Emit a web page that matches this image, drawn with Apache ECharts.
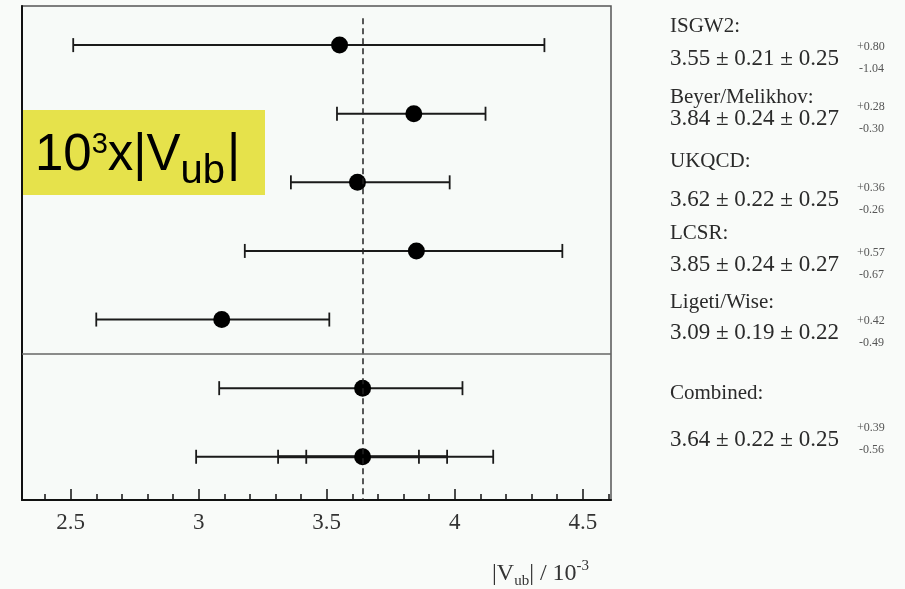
<!DOCTYPE html>
<html>
<head>
<meta charset="utf-8">
<script src="https://cdn.jsdelivr.net/npm/echarts@6/dist/echarts.min.js"></script>
<style>
  html, body { margin: 0; padding: 0; background: #f9fbf9; }
  #main { width: 905px; height: 589px; }
</style>
</head>
<body>
<div id="main"></div>
<script>
// |Vub| results (x 10^-3), theory errors asymmetric
const methods = ['ISGW2', 'Beyer/Melikhov', 'UKQCD', 'LCSR', 'Ligeti/Wise', 'Combined'];
const central = [3.55, 3.84, 3.62, 3.85, 3.09, 3.64];
const statErr = [0.21, 0.24, 0.22, 0.24, 0.19, 0.22];
const sysErr = [0.25, 0.27, 0.25, 0.27, 0.22, 0.25];
const theoPlus = [0.80, 0.28, 0.36, 0.57, 0.42, 0.39];
const theoMinus = [1.04, 0.30, 0.26, 0.67, 0.49, 0.56];
// caps of the bottom (total) combined bar
const combinedCaps = [2.99, 3.31, 3.42, 3.86, 3.97, 4.15];
const rowPos = [7, 6, 5, 4, 3, 2];
const combinedRow = 1;
const xTickLabels = [2.5, 3, 3.5, 4, 4.5];

const minorTicks = [];
for (let v = 24; v <= 46; v++) if (v % 5) minorTicks.push(v / 10);

const X_MIN = 2.31, X_MAX = 4.61;
const serif = '"Liberation Serif", "DejaVu Serif", serif';
const sans = '"Liberation Sans", Arial, sans-serif';

let chart = echarts.init(document.getElementById('main'));

const barData = methods.map((m, i) => [central[i] - theoMinus[i], central[i] + theoPlus[i], rowPos[i]]);
const pointData = central.map((c, i) => [c, rowPos[i]]);
pointData.push([central[5], combinedRow]);

function seg(x1, y1, x2, y2, w) {
  return { type: 'line', shape: { x1, y1, x2, y2 }, style: { stroke: '#1a1a1a', lineWidth: w } };
}

function renderBar(params, api) {
  const y = api.value(2);
  const a = api.coord([api.value(0), y]);
  const b = api.coord([api.value(1), y]);
  const h = 7;
  return {
    type: 'group',
    children: [
      seg(a[0], a[1], b[0], b[1], 2),
      seg(a[0], a[1] - h, a[0], a[1] + h, 1.8),
      seg(b[0], b[1] - h, b[0], b[1] + h, 1.8)
    ]
  };
}

function renderNested(params, api) {
  const y = api.value(6);
  const pts = [0, 1, 2, 3, 4, 5].map(k => api.coord([api.value(k), y]));
  const h = 7;
  const kids = [
    seg(pts[0][0], pts[0][1], pts[5][0], pts[5][1], 2),
    seg(pts[1][0], pts[1][1], pts[4][0], pts[4][1], 3)
  ];
  pts.forEach(p => kids.push(seg(p[0], p[1] - h, p[0], p[1] + h, 1.8)));
  return { type: 'group', children: kids };
}

// right-hand legend text
const nameY = [16, 87, 151, 223, 292, 383];
const valueY = [47, 107, 188, 253, 321, 428];
const legendTexts = [];
methods.forEach((m, i) => {
  legendTexts.push({
    type: 'text', left: 670, top: nameY[i],
    style: { text: m + ':', font: '21px ' + serif, fill: '#2a2a2a' }
  });
  legendTexts.push({
    type: 'text', left: 670, top: valueY[i],
    style: {
      text: central[i].toFixed(2) + ' \u00b1 ' + statErr[i].toFixed(2) + ' \u00b1 ' + sysErr[i].toFixed(2),
      font: '23px ' + serif, fill: '#2a2a2a'
    }
  });
  legendTexts.push({
    type: 'text', left: 857, top: valueY[i] - 6,
    style: { text: '+' + theoPlus[i].toFixed(2), font: '12px ' + serif, fill: '#555' }
  });
  legendTexts.push({
    type: 'text', left: 859, top: valueY[i] + 16,
    style: { text: '-' + theoMinus[i].toFixed(2), font: '12px ' + serif, fill: '#555' }
  });
});

let option = {
  backgroundColor: '#f9fbf9',
  animation: false,
  grid: {
    left: 22, right: 294, top: 6, bottom: 89,
    show: true, borderColor: '#555', borderWidth: 1.5, backgroundColor: '#f7faf8'
  },
  xAxis: [
    {
      type: 'value', min: X_MIN, max: X_MAX, position: 'bottom',
      axisLine: { lineStyle: { color: '#111', width: 2 } },
      axisTick: { inside: true, length: 11, customValues: xTickLabels, lineStyle: { color: '#111', width: 1.5 } },
      axisLabel: {
        customValues: xTickLabels, margin: 11,
        fontFamily: serif, fontSize: 23, color: '#333'
      },
      splitLine: { show: false }
    },
    {
      type: 'value', min: X_MIN, max: X_MAX, position: 'bottom',
      axisLine: { show: false },
      axisTick: { inside: true, length: 6, customValues: minorTicks, lineStyle: { color: '#111', width: 1.5 } },
      axisLabel: { show: false },
      splitLine: { show: false }
    }
  ],
  yAxis: {
    type: 'value', min: 0.37, max: 7.57,
    axisLine: { show: true, lineStyle: { color: '#111', width: 2 } },
    axisTick: { show: false }, axisLabel: { show: false }, splitLine: { show: false }
  },
  series: [
    {
      type: 'custom', renderItem: renderBar, data: barData,
      encode: { x: [0, 1], y: 2 }, z: 2
    },
    {
      type: 'custom', renderItem: renderNested,
      data: [[...combinedCaps, combinedRow]],
      encode: { x: [0, 1, 2, 3, 4, 5], y: 6 }, z: 2
    },
    {
      type: 'scatter', data: pointData, symbol: 'circle', symbolSize: 17,
      itemStyle: { color: '#000', opacity: 1 }, z: 3,
      markLine: {
        silent: true, symbol: ['none', 'none'], label: { show: false },
        data: [
          [{ coord: [central[5], 7.39], lineStyle: { type: [6, 4], color: '#222', width: 1.5 } },
           { coord: [central[5], 0.37] }],
          [{ coord: [X_MIN, 2.5], lineStyle: { type: 'solid', color: '#666', width: 1.5 } },
           { coord: [X_MAX, 2.5] }]
        ]
      }
    }
  ],
  graphic: [
    { type: 'rect', left: 22, top: 110, shape: { width: 243, height: 85 }, style: { fill: '#e6e24b' } },
    {
      type: 'text', left: 35, top: 130,
      style: {
        text: '{a|10}{sup|3}{a|x|V}{sub|ub}{a||}',
        rich: {
          a: { fontFamily: sans, fontSize: 51, lineHeight: 53, verticalAlign: 'top', fill: '#000' },
          sup: { fontFamily: sans, fontSize: 29, lineHeight: 29, verticalAlign: 'top', fill: '#000' },
          sub: { fontFamily: sans, fontSize: 40, lineHeight: 38, verticalAlign: 'top', padding: [22, 2, 0, 0], fill: '#000' }
        }
      }
    },
    {
      type: 'text', left: 492, top: 559,
      style: {
        text: '{a||V}{sub|ub}{a|| / 10}{sup|-3}',
        rich: {
          a: { fontFamily: serif, fontSize: 24, lineHeight: 30, fill: '#333' },
          sub: { fontFamily: serif, fontSize: 15, verticalAlign: 'bottom', fill: '#333' },
          sup: { fontFamily: serif, fontSize: 15, verticalAlign: 'top', fill: '#333' }
        }
      }
    },
    ...legendTexts
  ]
};

chart.setOption(option);
</script>
</body>
</html>
